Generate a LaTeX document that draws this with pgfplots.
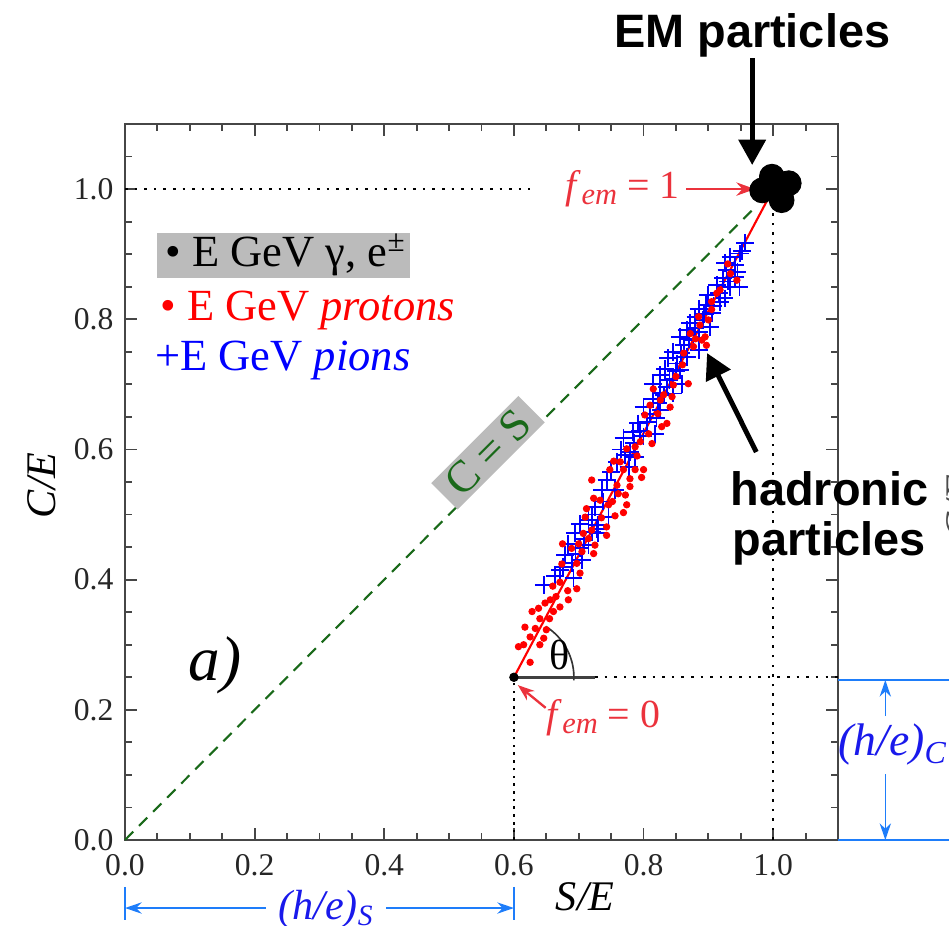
\documentclass[border=0pt]{standalone}
\usepackage{fontspec}
\setmainfont{Liberation Serif}
\newfontfamily\hv{Liberation Sans}
\usepackage{pgfplots}
\pgfplotsset{compat=1.18}
\usetikzlibrary{arrows.meta}
\definecolor{ptred}{RGB}{255,0,0}
\definecolor{piblue}{RGB}{0,0,255}
\definecolor{txtblue}{RGB}{25,25,235}
\definecolor{annblue}{RGB}{30,125,250}
\definecolor{csgreen}{RGB}{25,105,25}
\definecolor{boxgray}{RGB}{187,187,187}
\definecolor{femred}{RGB}{235,50,60}
\definecolor{axgray}{RGB}{70,70,70}
\newcommand{\fs}[1]{\fontsize{#1}{#1}\selectfont}
\newcommand{\fem}{\textit{f}\raisebox{-0.35ex}{\fs{13}\textit{em}}}
\begin{document}
\begin{tikzpicture}
\begin{axis}[
  at={(1.875cm,1.29cm)}, anchor=south west,
  scale only axis, width=10.695cm, height=10.74cm,
  xmin=0, xmax=1.1, ymin=0, ymax=1.1,
  xtick={0,0.2,0.4,0.6,0.8,1.0}, ytick={0,0.2,0.4,0.6,0.8,1.0},
  minor xtick={0.05,0.1,0.15,0.25,0.3,0.35,0.45,0.5,0.55,0.65,0.7,0.75,0.85,0.9,0.95,1.05},
  minor ytick={0.05,0.1,0.15,0.25,0.3,0.35,0.45,0.5,0.55,0.65,0.7,0.75,0.85,0.9,0.95,1.05},
  tick align=inside, major tick length=0.18cm, minor tick length=0.1cm,
  axis line style={axgray, line width=0.9pt},
  every tick/.style={axgray, line width=0.8pt},
  tick label style={font=\fs{13.5}, text=black!85},
  xticklabel style={yshift=-0.1cm},
  yticklabel style={xshift=-0.05cm},
  /pgf/number format/fixed, /pgf/number format/fixed zerofill,
  /pgf/number format/precision=1, /pgf/number format/assume math mode=true,
  clip=false,
]
% guide lines
\draw[black, line width=0.9pt, dash pattern=on 1.1pt off 3pt] (axis cs:0,1) -- (axis cs:0.625,1);
\draw[black, line width=0.9pt, dash pattern=on 1.1pt off 3pt] (axis cs:1,0) -- (axis cs:1,0.97);
\draw[black, line width=0.9pt, dash pattern=on 1.1pt off 3pt] (axis cs:0.725,0.25) -- (axis cs:1.1,0.25);
\draw[black, line width=0.8pt, dash pattern=on 1.1pt off 2.2pt] (axis cs:0.6,0) -- (axis cs:0.6,0.25);
\draw[black!75, line width=1.2pt] (axis cs:0.6,0.25) -- (axis cs:0.725,0.25);
\draw[csgreen, line width=0.9pt, dash pattern=on 5pt off 3.5pt] (axis cs:0,0) -- (axis cs:0.975,0.975);
\draw[black!80, line width=0.7pt] ([shift={(-3:0.9cm)}]axis cs:0.6,0.25) arc[start angle=-3, end angle=58, radius=0.9cm];
% pions
\addplot[only marks, mark=+, mark size=3.8pt, color=piblue, mark options={line width=0.8pt}] coordinates {
(0.646,0.392)(0.671,0.415)(0.692,0.402)(0.679,0.438)(0.689,0.425)(0.684,0.455)(0.694,0.471)(0.702,0.448)(0.705,0.430)(0.715,0.453)(0.720,0.473)(0.730,0.471)(0.702,0.486)(0.730,0.484)
(0.715,0.492)(0.725,0.512)(0.736,0.538)(0.743,0.553)(0.756,0.538)(0.746,0.496)(0.728,0.478)(0.759,0.581)(0.777,0.573)(0.772,0.591)(0.779,0.596)(0.787,0.589)(0.769,0.617)(0.784,0.627)(0.792,0.640)(0.800,0.620)(0.818,0.624)(0.805,0.642)(0.800,0.665)(0.815,0.678)(0.831,0.684)(0.826,0.661)(0.846,0.686)(0.820,0.648)
(0.957,0.917)(0.949,0.901)(0.934,0.896)(0.941,0.883)(0.928,0.876)(0.941,0.865)(0.923,0.863)(0.913,0.853)(0.934,0.850)(0.916,0.840)(0.900,0.837)(0.918,0.827)(0.897,0.822)(0.885,0.816)(0.905,0.809)(0.880,0.804)(0.892,0.799)(0.872,0.794)(0.903,0.788)(0.867,0.783)(0.885,0.781)(0.856,0.773)(0.877,0.768)(0.862,0.760)(0.885,0.753)(0.846,0.750)(0.867,0.742)(0.838,0.740)(0.851,0.732)(0.833,0.724)(0.856,0.722)(0.826,0.714)(0.846,0.709)(0.815,0.701)(0.836,0.696)(0.859,0.701)(0.826,0.687)(0.926,0.886)
(0.952,0.905)(0.945,0.872)(0.930,0.858)(0.948,0.850)(0.925,0.832)(0.908,0.820)(0.893,0.808)(0.880,0.786)(0.870,0.770)(0.858,0.748)(0.850,0.720)(0.840,0.707)(0.822,0.672)(0.810,0.655)(0.795,0.628)(0.785,0.610)(0.765,0.600)(0.750,0.565)(0.738,0.520)(0.720,0.500)(0.708,0.462)(0.695,0.440)(0.676,0.420)(0.663,0.405)
};
% protons
\addplot[only marks, mark=*, mark size=1.35pt, color=ptred, mark options={draw=none}] coordinates {
(0.607,0.297)(0.617,0.327)(0.628,0.351)(0.633,0.325)(0.640,0.340)(0.648,0.364)(0.650,0.323)(0.638,0.356)(0.656,0.369)(0.661,0.351)(0.665,0.374)(0.671,0.358)(0.671,0.396)(0.683,0.383)(0.684,0.369)(0.674,0.424)(0.675,0.455)(0.697,0.386)(0.702,0.410)(0.697,0.425)(0.705,0.443)(0.715,0.463)(0.723,0.440)(0.725,0.453)(0.743,0.468)(0.743,0.481)(0.707,0.471)(0.689,0.448)(0.720,0.476)(0.625,0.312)(0.646,0.310)(0.625,0.273)
(0.720,0.553)(0.748,0.569)(0.769,0.569)(0.787,0.569)(0.800,0.569)(0.797,0.557)(0.779,0.543)(0.772,0.530)(0.774,0.515)(0.769,0.503)(0.756,0.498)(0.723,0.525)(0.733,0.522)(0.746,0.515)(0.761,0.532)(0.759,0.545)(0.779,0.555)(0.774,0.601)(0.787,0.604)(0.795,0.612)(0.813,0.609)(0.808,0.624)(0.836,0.640)(0.828,0.635)(0.802,0.653)(0.810,0.668)(0.841,0.665)(0.844,0.681)(0.826,0.676)(0.764,0.581)(0.754,0.582)(0.710,0.496)(0.712,0.509)
(0.944,0.860)(0.934,0.870)(0.913,0.840)(0.885,0.804)(0.900,0.799)(0.887,0.791)(0.895,0.773)(0.897,0.760)(0.890,0.768)(0.872,0.778)(0.877,0.758)(0.869,0.701)(0.862,0.748)(0.846,0.699)(0.815,0.693)(0.831,0.684)(0.905,0.827)
(0.930,0.885)(0.918,0.845)(0.905,0.815)(0.880,0.770)(0.860,0.730)(0.850,0.712)(0.822,0.655)(0.790,0.590)(0.752,0.520)(0.735,0.495)(0.700,0.455)(0.660,0.390)(0.615,0.300)(0.640,0.300)(0.655,0.340)
};
% red line f_em from 0 to 1
\addplot[color=ptred, line width=0.9pt] coordinates {(0.6,0.25)(1.0,1.0)};
% f_em = 0 point
\addplot[only marks, mark=*, mark size=1.8pt, black] coordinates {(0.6,0.25)};
% EM cluster
\addplot[only marks, mark=*, mark size=5.3pt, black] coordinates {(0.998,1.019)(1.024,1.009)(0.983,0.998)(1.013,0.983)(1.005,1.0)};
% C = S label
\node[fill=boxgray, rotate=45, text=csgreen, font=\fs{19}, minimum width=1.85cm, minimum height=0.56cm, inner sep=0pt] at (axis cs:0.56,0.595) {C = S};
% legend-like text
\fill[boxgray] (axis cs:0.0494,0.8633) rectangle (axis cs:0.4398,0.9324);
\node[anchor=west, inner sep=0pt, font=\fs{19}] at (axis cs:0.062,0.899) {\textbullet\ E GeV γ, e\textsuperscript{±}};
\node[anchor=west, inner sep=0pt, text=ptred, font=\fs{19}] at (axis cs:0.054,0.814) {\textbullet\ E GeV \textit{protons}};
\node[anchor=west, inner sep=0pt, text=piblue, font=\fs{19}] at (axis cs:0.046,0.737) {+E GeV \textit{pions}};
% a)
\node[font=\fs{27}] at (axis cs:0.139,0.269) {\textit{a)}};
% theta
\node[font=\fs{18}] at (axis cs:0.671,0.284) {θ};
% f_em labels
\node[anchor=base east, inner sep=0pt, text=femred, font=\fs{17}] at (axis cs:0.856,0.986) {\fem\ = 1};
\draw[femred, line width=1pt, -{Stealth[length=0.28cm,width=0.2cm]}] (axis cs:0.866,1.0) -- (axis cs:0.972,1.0);
\node[anchor=base west, inner sep=0pt, text=femred, font=\fs{17}] at (axis cs:0.650,0.1736) {\fem\ = 0};
\draw[femred, line width=1pt, -{Stealth[length=0.25cm,width=0.18cm]}] (axis cs:0.649,0.203) -- (axis cs:0.606,0.238);
% axis labels
\node[anchor=base, font=\fs{18}] at (axis cs:0.71,-0.109) {\textit{S/E}};
\node[rotate=90, font=\fs{18}] at (axis cs:-0.128,0.545) {\textit{C/E}};
% EM particles
\node[anchor=base, font=\hv\bfseries\fs{20}] at (axis cs:0.9676,1.218) {EM particles};
\draw[black, line width=2.1pt, -{Triangle[length=0.38cm,width=0.4cm]}] (axis cs:0.9676,1.201) -- (axis cs:0.9676,1.037);
% hadronic particles
\node[anchor=base west, inner sep=0pt, font=\hv\bfseries\fs{20}] at (axis cs:0.9336,0.5146) {hadronic};
\node[anchor=base west, inner sep=0pt, font=\hv\bfseries\fs{20}] at (axis cs:0.9367,0.4378) {particles};
\draw[black, line width=2.1pt, -{Triangle[length=0.38cm,width=0.4cm]}] (axis cs:0.974,0.596) -- (axis cs:0.898,0.748);
% (h/e)_S
\draw[annblue, line width=0.7pt, {Stealth[length=0.25cm,width=0.17cm]}-] (axis cs:0,-0.1045) -- (axis cs:0.2176,-0.1045);
\draw[annblue, line width=0.7pt, -{Stealth[length=0.25cm,width=0.17cm]}] (axis cs:0.4028,-0.1045) -- (axis cs:0.6,-0.1045);
\draw[annblue, line width=0.7pt] (axis cs:0,-0.0722) -- (axis cs:0,-0.1229);
\draw[annblue, line width=0.7pt] (axis cs:0.6,-0.0722) -- (axis cs:0.6,-0.1229);
\node[text=txtblue, font=\fs{18}] at (axis cs:0.31,-0.106) {\textit{(h/e)}\textsubscript{\textit{S}}};
% (h/e)_C
\draw[annblue, line width=0.7pt] (axis cs:1.1,0.2458) -- (axis cs:1.36,0.2458);
\draw[annblue, line width=0.7pt] (axis cs:1.1,0) -- (axis cs:1.36,0);
\draw[annblue, line width=0.7pt, -{Stealth[length=0.25cm,width=0.17cm]}] (axis cs:1.173,0.1905) -- (axis cs:1.173,0.2458);
\draw[annblue, line width=0.7pt, -{Stealth[length=0.25cm,width=0.17cm]}] (axis cs:1.173,0.101) -- (axis cs:1.173,0);
\node[anchor=west, inner sep=0pt, text=txtblue, font=\fs{19.5}] at (axis cs:1.1,0.146) {\textit{(h/e)}\textsubscript{\textit{C}}};
% neighbouring panel's label, mostly cut off
\node[rotate=90, font=\fs{18}, text=black!70] at (axis cs:1.29,0.51) {\textit{C/E}};
\end{axis}
\pgfresetboundingbox
\path[use as bounding box] (0,0) rectangle (14.235cm,13.89cm);
\end{tikzpicture}
\end{document}
